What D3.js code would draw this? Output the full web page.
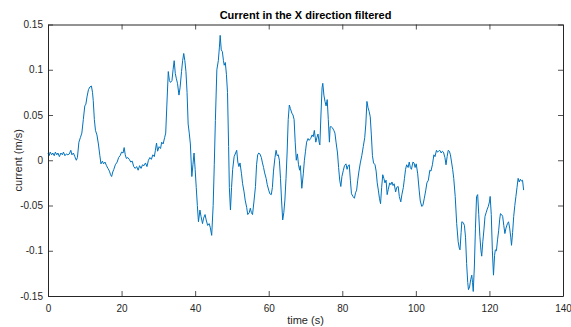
<!DOCTYPE html>
<html><head><meta charset="utf-8">
<script src="https://cdn.jsdelivr.net/npm/d3@7"></script>
<style>body{margin:0;background:#fff}svg{display:block}text{font-family:"Liberation Sans",Arial,Helvetica,sans-serif}</style>
</head><body>
<script>
const titleText = "Current in the X direction filtered";
const xLabel = "time (s)";
const yLabel = "current (m/s)";
const xTicks = [0,20,40,60,80,100,120,140];
const yTicks = [-0.15,-0.1,-0.05,0,0.05,0.1,0.15];
const yTickLabels = ["-0.15","-0.1","-0.05","0","0.05","0.1","0.15"];

const time = [0,0.3,0.6,1.0,1.3,1.7,2.0,2.4,2.7,3.1,3.5,3.9,4.2,4.6,5.0,5.4,5.8,6.2,6.5,6.9,7.3,7.7,8.0,8.4,8.8,9.2,9.6,10.0,10.3,10.6,11.0,11.4,11.8,12.1,12.3,12.6,12.9,13.3,13.7,14.1,14.4,14.8,15.1,15.5,15.9,16.3,16.7,17.0,17.3,17.6,17.9,18.3,18.8,19.2,19.6,20.0,20.4,20.7,21.0,21.3,21.7,22.1,22.5,22.9,23.3,23.7,24.1,24.5,24.9,25.3,25.7,26.1,26.5,26.9,27.3,27.7,28.1,28.5,28.9,29.2,29.5,29.8,30.2,30.6,30.9,31.3,31.7,32.0,32.3,32.7,33.0,33.3,33.7,34.0,34.3,34.6,34.9,35.2,35.6,35.9,36.3,36.6,36.9,37.2,37.5,37.8,38.1,38.4,38.7,39.1,39.4,39.7,40.0,40.3,40.6,40.9,41.3,41.6,42.0,42.3,42.7,43.0,43.4,43.8,44.1,44.5,44.9,45.2,45.5,45.9,46.3,46.6,46.8,47.1,47.4,47.7,47.9,48.2,48.5,48.8,49.1,49.3,49.6,49.9,50.2,50.6,51.0,51.3,51.6,51.9,52.2,52.6,52.9,53.3,53.6,54.0,54.3,54.7,55.0,55.3,55.6,56.0,56.4,56.7,57.0,57.3,57.6,58.0,58.3,58.6,58.9,59.3,59.6,60.0,60.3,60.7,61.0,61.3,61.7,62.0,62.3,62.6,62.9,63.2,63.5,63.8,64.1,64.4,64.7,65.0,65.3,65.6,65.9,66.3,66.6,66.9,67.2,67.5,67.8,68.1,68.4,68.6,69.0,69.4,69.7,70.0,70.3,70.7,71.0,71.4,71.8,72.1,72.4,72.8,73.1,73.4,73.7,73.9,74.2,74.5,74.7,75.0,75.3,75.6,75.9,76.2,76.5,76.7,77.0,77.3,77.7,78.0,78.3,78.7,79.0,79.3,79.6,79.9,80.3,80.6,81.0,81.3,81.6,81.9,82.2,82.5,82.9,83.3,83.6,83.9,84.2,84.5,84.9,85.3,85.7,86.1,86.4,86.7,87.0,87.3,87.6,87.9,88.2,88.5,88.9,89.2,89.5,89.8,90.1,90.4,90.7,91.0,91.3,91.6,91.9,92.2,92.5,92.9,93.2,93.5,93.8,94.1,94.5,94.8,95.2,95.5,95.9,96.2,96.6,96.9,97.2,97.5,97.9,98.2,98.5,98.8,99.2,99.5,99.8,100.1,100.5,100.9,101.2,101.6,101.9,102.3,102.7,103.0,103.4,103.8,104.1,104.5,104.9,105.2,105.6,105.9,106.2,106.5,106.9,107.2,107.5,107.9,108.2,108.5,108.8,109.1,109.4,109.7,110.0,110.3,110.7,111.1,111.5,111.8,112.0,112.3,112.5,112.9,113.2,113.5,113.8,114.1,114.3,114.6,114.9,115.2,115.4,115.6,115.9,116.2,116.5,116.8,117.1,117.4,117.7,117.9,118.2,118.5,118.8,119.1,119.4,119.7,120.0,120.2,120.5,120.8,121.1,121.4,121.6,121.9,122.2,122.5,122.8,123.0,123.3,123.6,123.9,124.2,124.5,124.9,125.2,125.5,125.8,126.0,126.3,126.6,126.9,127.2,127.5,127.8,128.1,128.4,128.7,129.0,129.3];

const current = [0.008,0.005,0.009,0.006,0.008,0.005,0.009,0.006,0.008,0.004,0.008,0.006,0.009,0.005,0.007,0.006,0.007,0.011,0.006,0.008,0.004,0.000,0.003,0.020,0.025,0.030,0.045,0.060,0.062,0.070,0.078,0.081,0.082,0.075,0.066,0.045,0.033,0.028,0.018,0.005,-0.004,-0.001,-0.004,-0.002,-0.006,-0.009,-0.012,-0.016,-0.018,-0.013,-0.010,-0.005,-0.002,0.003,0.005,0.009,0.008,0.014,0.006,0.002,0.003,0.001,-0.002,-0.001,-0.007,-0.009,-0.007,-0.011,-0.006,-0.009,-0.005,-0.006,-0.003,-0.007,0.000,0.003,0.001,0.006,0.004,0.011,0.019,0.010,0.015,0.013,0.020,0.018,0.025,0.030,0.060,0.098,0.088,0.086,0.088,0.100,0.110,0.096,0.090,0.085,0.072,0.080,0.098,0.110,0.118,0.110,0.098,0.075,0.040,0.030,0.018,-0.018,-0.005,0.008,-0.010,-0.030,-0.050,-0.068,-0.055,-0.062,-0.070,-0.064,-0.060,-0.066,-0.072,-0.070,-0.074,-0.083,-0.050,-0.005,0.044,0.100,0.110,0.125,0.138,0.122,0.120,0.110,0.105,0.108,0.095,0.075,0.015,-0.030,-0.055,-0.030,-0.010,0.004,0.008,0.011,-0.002,-0.007,-0.003,-0.015,-0.026,-0.035,-0.044,-0.052,-0.060,-0.058,-0.053,-0.058,-0.060,-0.045,-0.029,-0.005,0.006,0.008,0.007,0.003,-0.003,-0.008,-0.014,-0.020,-0.027,-0.033,-0.037,-0.038,-0.030,-0.012,0.003,0.011,0.005,0.006,0.000,-0.020,-0.045,-0.066,-0.058,-0.044,-0.020,0.008,0.045,0.061,0.057,0.052,0.050,0.045,0.020,0.000,0.007,-0.005,-0.011,-0.006,-0.031,-0.015,0.000,0.010,0.020,0.024,0.022,0.024,0.028,0.026,0.033,0.020,0.025,0.029,0.020,0.017,0.050,0.080,0.085,0.072,0.065,0.060,0.067,0.045,0.020,0.037,0.037,0.036,0.033,0.030,0.020,0.008,-0.008,-0.022,-0.029,-0.018,-0.011,-0.006,-0.004,-0.010,-0.006,-0.005,-0.022,-0.037,-0.040,-0.042,-0.036,-0.033,-0.022,-0.013,-0.003,0.005,0.015,0.025,0.040,0.065,0.058,0.054,0.048,0.028,0.005,-0.003,-0.005,-0.012,-0.025,-0.033,-0.042,-0.048,-0.030,-0.016,-0.020,-0.025,-0.022,-0.038,-0.032,-0.025,-0.027,-0.024,-0.028,-0.026,-0.035,-0.030,-0.029,-0.040,-0.046,-0.038,-0.030,-0.020,-0.010,-0.005,-0.008,-0.002,-0.008,-0.010,-0.002,-0.003,-0.008,-0.004,-0.015,-0.033,-0.045,-0.051,-0.050,-0.042,-0.033,-0.025,-0.022,-0.011,-0.012,-0.005,0.006,0.004,0.011,0.009,0.010,0.011,0.008,0.010,0.009,0.003,-0.005,0.004,0.011,0.010,0.006,-0.002,-0.010,-0.020,-0.040,-0.070,-0.090,-0.097,-0.099,-0.080,-0.068,-0.069,-0.072,-0.085,-0.114,-0.135,-0.143,-0.140,-0.132,-0.127,-0.135,-0.145,-0.118,-0.075,-0.040,-0.038,-0.060,-0.084,-0.100,-0.106,-0.090,-0.077,-0.062,-0.058,-0.054,-0.051,-0.046,-0.040,-0.060,-0.100,-0.127,-0.105,-0.099,-0.100,-0.088,-0.078,-0.065,-0.059,-0.060,-0.062,-0.072,-0.081,-0.075,-0.070,-0.068,-0.075,-0.085,-0.094,-0.080,-0.062,-0.050,-0.040,-0.030,-0.020,-0.024,-0.021,-0.023,-0.022,-0.033];

const W = 571, H = 327;
const L = 48, R = 563, T = 24.5, B = 296;
const axisColor = "#262626";
const lineColor = "#0072BD";

const svg = d3.select("body").append("svg").attr("width", W).attr("height", H);
const x = d3.scaleLinear().domain([0,140]).range([L,R]);
const y = d3.scaleLinear().domain([-0.15,0.15]).range([B,T]);

const data = time.map((t,i)=>({t, v: current[i]}));

svg.append("path").datum(data)
  .attr("fill","none").attr("stroke",lineColor).attr("stroke-width",1)
  .attr("stroke-linejoin","round")
  .attr("d", d3.line().x(d=>x(d.t)).y(d=>y(d.v)));

const fmtY = d => yTickLabels[yTicks.indexOf(d)];
const tick = 5;
// bottom axis
const gb = svg.append("g").attr("transform",`translate(0,${B})`)
  .call(d3.axisBottom(x).tickValues(xTicks).tickSize(-tick).tickPadding(9).tickSizeOuter(0));
// left axis
const gl = svg.append("g").attr("transform",`translate(${L},0)`)
  .call(d3.axisLeft(y).tickValues(yTicks).tickFormat(fmtY).tickSize(-tick).tickPadding(5).tickSizeOuter(0));
// top axis
const gt = svg.append("g").attr("transform",`translate(0,${T})`)
  .call(d3.axisTop(x).tickValues(xTicks).tickFormat("").tickSize(-tick).tickSizeOuter(0));
// right axis
const gr = svg.append("g").attr("transform",`translate(${R},0)`)
  .call(d3.axisRight(y).tickValues(yTicks).tickFormat("").tickSize(-tick).tickSizeOuter(0));

[gb,gl,gt,gr].forEach(g=>{
  g.select(".domain").attr("stroke",axisColor).attr("stroke-width",1);
  g.selectAll(".tick line").attr("stroke",axisColor).attr("stroke-width",0.8);
  g.selectAll("text").attr("fill",axisColor).attr("font-size",10)
   .attr("font-family","'Liberation Sans',Arial,sans-serif");
});

svg.append("text").attr("x",(L+R)/2).attr("y",18.5).attr("text-anchor","middle")
  .attr("font-size",11).attr("font-weight","bold").attr("fill","#000").text(titleText);
svg.append("text").attr("x",(L+R)/2).attr("y",324).attr("text-anchor","middle")
  .attr("font-size",11).attr("fill",axisColor).text(xLabel);
svg.append("text").attr("transform",`translate(22,${(T+B)/2}) rotate(-90)`).attr("text-anchor","middle")
  .attr("font-size",11).attr("fill",axisColor).text(yLabel);
</script>
</body></html>
